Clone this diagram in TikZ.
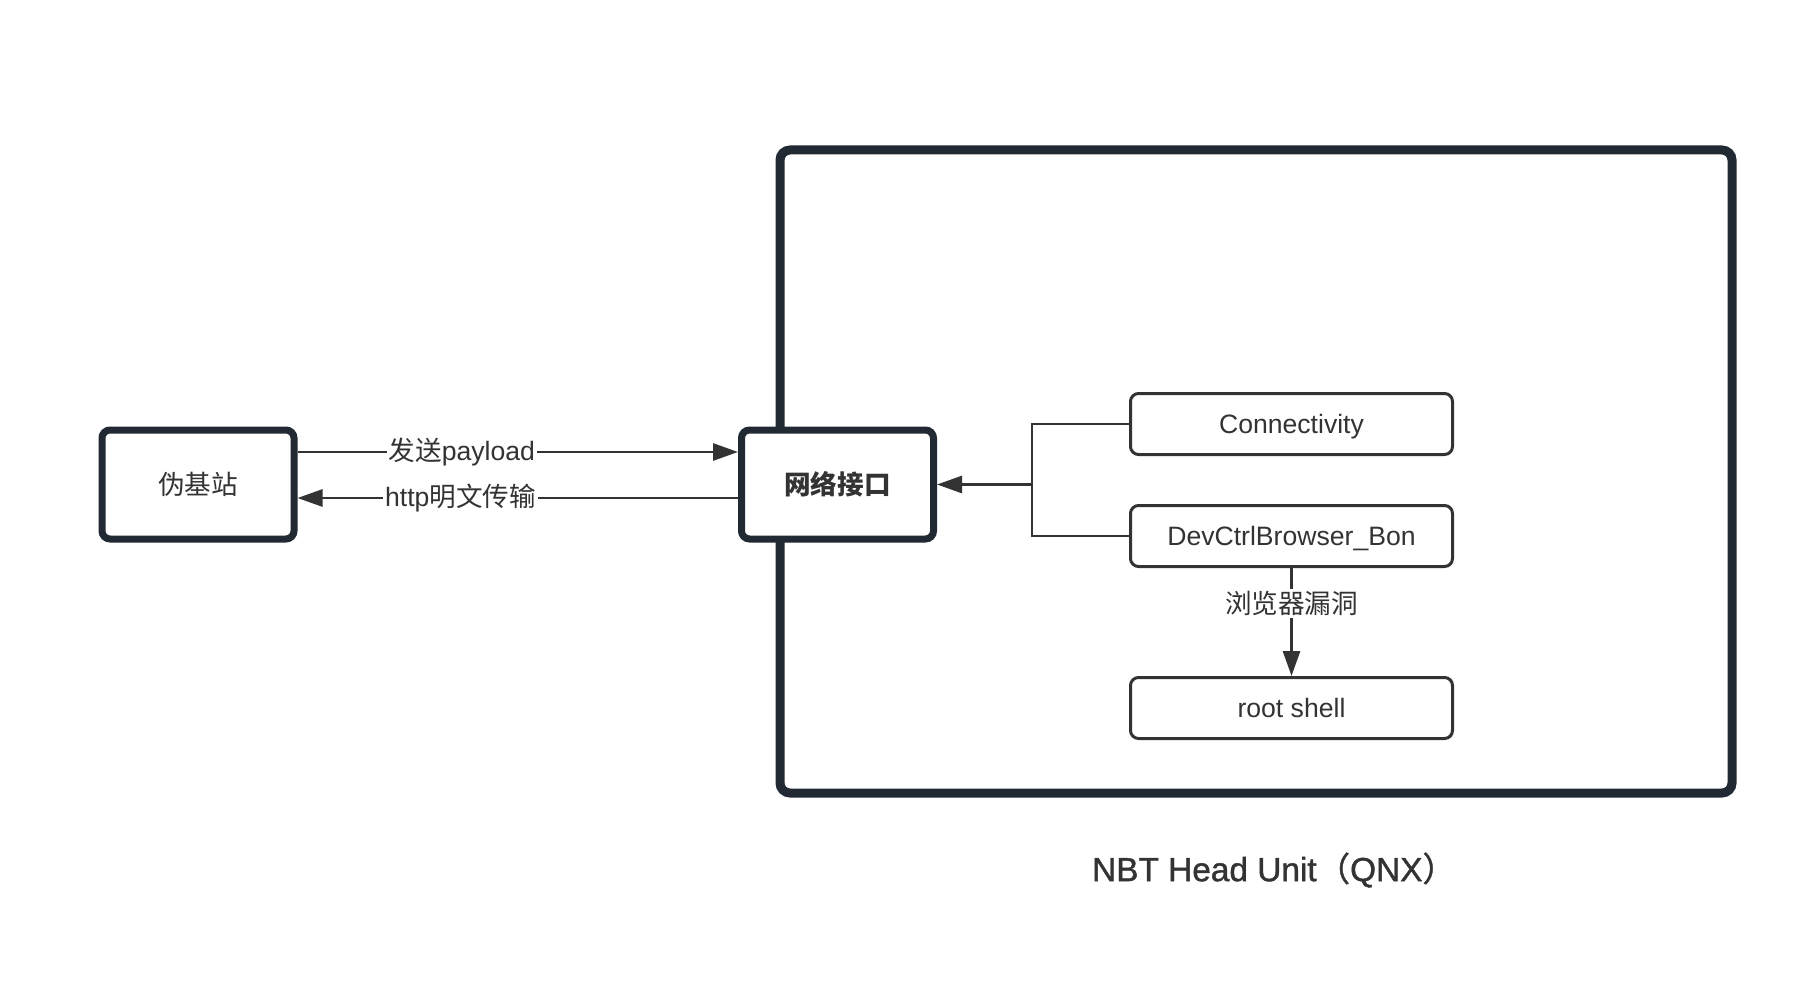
\documentclass[tikz,border=0pt]{standalone}
\usepackage{fontspec}
\setmainfont{Liberation Sans}
\newfontfamily\cjk{Noto Sans CJK SC}
\newfontfamily\titlefont[FakeBold=1.2]{Liberation Sans}
\newfontfamily\cjktitle[FakeBold=1.2]{Noto Sans CJK SC}
\usetikzlibrary{arrows.meta,calc}
\definecolor{frame}{HTML}{212A33}
\definecolor{ink}{HTML}{333333}
\newcommand{\boxfont}{\fontsize{13.3pt}{16pt}\selectfont}
\begin{document}
\begin{tikzpicture}[x=0.5pt,y=-0.5pt,
  thickbox/.style={draw=frame, line width=3.5pt, rounded corners=4pt, fill=white,
    minimum width=96pt, minimum height=54.5pt, inner sep=0pt, text=ink, font=\boxfont},
  thinbox/.style={draw=ink, line width=1.5pt, rounded corners=4pt, fill=white,
    minimum width=161pt, minimum height=30.5pt, inner sep=0pt, text=ink, font=\boxfont,
    text height=12pt, text depth=2.5pt},
  conn/.style={draw=ink, line width=1.4pt},
  tip/.style={-{Triangle[length=12.5pt,width=8.5pt]}},
  lab/.style={fill=white, inner sep=1pt, text=ink, font=\boxfont}
]
\useasboundingbox (0,0) rectangle (1804,984);
% container
\node[draw=frame, line width=4.5pt, rounded corners=5pt, minimum width=476pt, minimum height=321.5pt, inner sep=0pt] (hu) at (1256,471.5) {};
\node[text=ink, font=\fontsize{16.7pt}{19pt}\selectfont\titlefont] (title) at (1274,870) {NBT Head Unit{\cjktitle （}QNX{\cjktitle ）}};
% boxes
\node[thickbox] (jz) at (198,484.5) {\cjk 伪基站};
\node[thickbox] (wl) at (837.5,484.5) {\cjk\bfseries 网络接口};
\node[thinbox] (c1) at (1291.5,424) {Connectivity};
\node[thinbox] (dev) at (1291.5,536) {DevCtrlBrowser\_Bon};
\node[thinbox] (rs) at (1291.5,708) {root shell};
\coordinate (br) at (1032,484.5);
% connectors
\draw[conn,tip] ($(jz.east)+(0,-32.5)$) -- node[lab,pos=0.373]{{\cjk 发送}payload} ($(wl.west)+(0,-32.5)$);
\draw[conn,tip] ($(wl.west)+(0,13.5)$) -- node[lab,pos=0.63]{http{\cjk 明文传输}} ($(jz.east)+(0,13.5)$);
\draw[conn] (c1.west) -- (c1.west -| br) -- (dev.west -| br) -- (dev.west);
\draw[conn,tip] (br |- wl.east) -- (wl.east);
\draw[conn,tip] (dev.south) -- node[lab,pos=0.33]{\cjk 浏览器漏洞} (rs.north);
\end{tikzpicture}
\end{document}
